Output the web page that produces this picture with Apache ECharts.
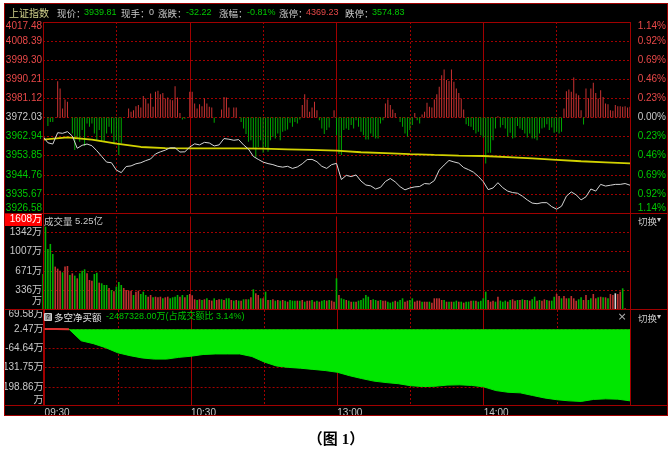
<!DOCTYPE html>
<html><head><meta charset="utf-8">
<script src="https://cdn.jsdelivr.net/npm/echarts@6/dist/echarts.min.js"></script>
<style>
html,body{margin:0;padding:0;background:#fff;}
#wrap{position:relative;width:672px;height:462px;overflow:hidden;}
#bg{position:absolute;left:4px;top:3px;width:664px;height:413px;background:#000;}
#chart{position:absolute;left:0;top:0;width:672px;height:462px;}
</style></head><body>
<div id="wrap"><div id="bg"></div><div id="chart"></div></div>
<script>
// ---------------- data ----------------
const prevClose = 3972.03;   // 昨收
const priceStep = 9.09;      // price grid step
const netBase = 2.47;        // 多空净买额 axis reference tick
const netStep = 67.11;       // 多空净买额 axis step (万)
const volStep = 335.5;       // volume axis step (万)
const volMax = 1608;         // volume axis max (万)

const priceTicks = ['3926.58','3935.67','3944.76','3953.85','3962.94','3972.03','3981.12','3990.21','3999.30','4008.39','4017.48'];
const pctTicks = ['1.14%','0.92%','0.69%','0.46%','0.23%','0.00%','0.23%','0.46%','0.69%','0.92%','1.14%'];
const volTicks = ['万','336万','671万','1007万','1342万','1608万'];
const netTicks = ['万','198.86万','131.75万','-64.64万','2.47万','69.58万'];
const timeTicks = ['09:30','10:30','13:00','14:00'];
const timeTickMinutes = [0, 60, 120, 180];

// index price, one value every 2 minutes (minute 0..240)
const price2 = [
 3963.0,3960.0,3959.4,3964.8,3964.5,3965.3,3963.2,3957.4,3958.8,3959.4,
 3958.6,3956.2,3953.5,3950.8,3950.5,3947.0,3945.8,3948.7,3949.0,3950.0,
 3950.5,3951.5,3952.3,3954.7,3955.7,3956.5,3957.6,3957.6,3955.6,3955.7,
 3958.0,3959.5,3959.0,3960.2,3959.9,3958.5,3959.0,3962.0,3961.7,3961.2,
 3961.5,3959.0,3957.0,3953.5,3952.1,3950.8,3950.1,3949.6,3948.8,3948.4,
 3948.8,3947.8,3948.5,3950.0,3952.0,3952.1,3951.0,3948.8,3947.8,3949.6,
 3950.2,3942.5,3944.5,3943.9,3944.7,3941.8,3939.9,3939.5,3938.0,3938.8,
 3941.6,3943.0,3941.4,3939.1,3937.6,3938.5,3939.0,3939.2,3940.6,3940.4,
 3942.0,3947.0,3949.4,3951.6,3950.9,3950.3,3948.2,3947.2,3946.0,3944.0,
 3941.5,3937.7,3938.5,3941.0,3938.6,3937.0,3936.3,3936.0,3934.6,3932.8,
 3931.3,3931.0,3931.5,3931.5,3929.6,3928.4,3929.8,3934.6,3936.6,3935.2,
 3932.8,3934.3,3938.0,3937.0,3940.2,3939.4,3939.8,3940.2,3940.2,3940.6,
 3939.81];

// yellow line, one value every 10 minutes
const avg10 = [3961.5,3962.6,3961.5,3959.6,3958.0,3957.5,3957.3,3957.3,3957.3,3957.2,
 3956.9,3956.6,3956.3,3955.5,3955.1,3954.6,3954.2,3953.9,3953.7,3953.2,
 3952.6,3951.9,3951.2,3950.7,3950.2];

// red/green strength bars per minute (index points from 昨收 line)
const breadth = [
 0,0,-4.1,-2.1,-2.1,0,17.3,13.8,4.3,8.6,
 7.5,0,-7.6,-15.5,-10.0,-11.6,-6.0,-13.6,-2.9,-4.4,
 -2.9,-7.6,-11.1,-6.0,-11.6,-11.6,-7.6,-4.4,-7.6,-12.7,
 -10.8,-17.9,-12.4,0,0,4.3,2.7,3.5,5.4,5.9,
 4.8,10.2,9.0,6.7,11.4,5.1,12.2,12.7,11.1,11.7,
 9.0,9.5,8.6,8.2,14.9,9.5,2.2,-1.0,-0.6,0,
 12.2,12.2,6.7,4.3,6.3,5.4,9.0,6.7,5.1,4.8,
 -2.5,0,0,3.8,9.8,9.5,4.8,0,4.8,4.8,
 0,-2.1,-5.2,-7.9,-11.6,-10.8,-14.7,-19.0,-14.0,-10.8,
 -16.8,-14.0,-16.3,-10.8,-9.2,-10.0,-7.6,-10.8,-6.8,-6.3,
 -5.7,-2.5,-4.4,-2.1,-2.9,-1.0,5.9,11.1,8.6,2.7,
 4.8,7.5,3.5,-1.3,-5.2,-7.9,-6.0,-4.8,0,3.5,
 -8.4,-17.4,-17.9,-6.0,-5.2,-6.0,-3.6,-5.2,-1.3,-4.4,
 -6.8,-8.4,-10.5,-10.5,-7.6,-9.2,-10.0,-10.0,-2.9,-1.3,
 6.7,8.6,5.9,3.8,2.2,0,-2.1,-4.4,-7.6,-9.2,
 -6.0,-3.6,2.2,-1.3,-2.9,1.4,2.7,7.0,5.1,4.8,
 8.6,11.1,14.6,20.1,22.8,17.8,17.4,22.8,17.0,13.8,
 11.7,9.0,3.8,-3.2,-4.1,-4.4,-6.0,-7.6,-6.8,-8.4,
 -9.5,-21.9,-16.8,-16.8,-10.8,-5.2,0.6,-4.8,-3.6,-5.2,
 -9.2,-7.3,-10.0,-9.5,-4.1,-5.2,-6.0,-7.6,-9.5,-7.6,
 -10.0,-10.0,-10.8,-7.6,-5.2,-4.8,-3.2,-6.0,-4.8,-7.3,
 -6.8,-7.6,-6.8,4.3,12.5,13.3,12.2,19.0,11.4,10.6,
 3.5,-3.3,13.8,9.0,13.8,16.5,11.7,9.0,13.0,9.8,
 6.7,6.3,3.5,3.2,5.9,5.4,5.4,5.1,5.4,4.8,
 5.1];

// volume per minute (万)
const volume = [
 619,1434,1050,1136,963,746,711,677,648,746,
 757,602,631,591,545,631,677,700,631,516,
 505,619,642,470,459,430,430,379,344,321,
 401,482,430,379,344,333,333,258,315,333,
 275,315,258,229,258,218,229,218,229,201,
 218,229,201,218,229,258,229,258,218,258,
 275,252,184,172,184,172,184,201,172,161,
 201,172,184,184,172,201,201,172,161,172,
 161,161,184,184,184,218,356,287,258,201,
 201,315,172,172,184,161,172,161,172,161,
 143,172,161,161,161,161,172,143,161,161,
 172,143,161,143,161,172,161,172,161,143,
 545,258,201,184,172,161,143,143,143,161,
 172,201,258,229,172,184,172,161,172,161,
 161,143,126,143,161,143,172,201,143,161,
 172,201,143,161,161,143,143,143,143,126,
 201,201,201,172,172,143,143,143,143,161,
 143,143,126,143,143,161,161,161,143,161,
 201,315,172,143,161,143,229,161,143,161,
 143,172,184,161,172,172,184,172,172,161,
 184,229,161,172,161,184,172,161,161,229,
 275,241,201,241,201,201,241,201,161,184,
 218,172,258,172,201,275,201,218,229,218,
 218,201,275,258,287,275,315,373,29,0,
 0];
// bar colour per minute: r = up, g = down, w = flat
const volDir = [
 'gggggrrrgr','rgrgrgggrr','rggrgggrgr','gggrrrrgrr','gggrrgrrrg','rrggggrgrg',
 'rrrgrgrgrr','grrgrggrgr','grgrgrgrrg','rgrgrgrgrg','rgggrgrgrr','grgrggrgrr',
 'grggrgrgrg','ggggrggrgr','rgggrgggrr','ggrrrgrrgr','rrrrgrgrgg','rgrggrgrgg',
 'ggrrrgrggg','rgrrgrgrgr','ggrgrrgrgg','rrgrrgrrrg','grrggrrgrg','rgrrwrrgrg',
 'g'].join('');

// 多空净买额 (万), one value every 5 minutes
const net5 = [
 3,3,2.5,-38,-48,-62,-80,-90,-98,-102,
 -102,-96,-92,-86,-84,-84,-84,-93,-112,-126,
 -131,-134,-138,-142,-148,-160,-170,-179,-184,-188,
 -195,-198,-197,-193,-192,-194,-199,-212,-218,-220,
 -229,-238,-244,-248,-250,-243,-241,-242,-248];

// ---------------- chart ----------------
const RED = '#e84848', GREEN = '#00c800', GRAY = '#c8c8c8', LINE = '#a00000';
const LF = "'Liberation Sans','Noto Sans CJK SC',sans-serif";
const CJK = "'Noto Sans CJK SC',sans-serif";
const toU = p => (p - prevClose) / priceStep;
const toNet = v => (v - netBase) / netStep;

const breadthData = breadth.map((b, i) => ({value: [i, b / priceStep], itemStyle: {color: b >= 0 ? '#c83232' : '#00a800'}}));
const volColors = {r: '#c03030', g: '#00b000', w: '#d8d8d8'};
const volData = volume.map((v, i) => ({value: [i, v], itemStyle: {color: volColors[volDir[i]]}}));
const priceData = price2.map((p, i) => [i * 2, toU(p)]);
const avgData = avg10.map((p, i) => [i * 10, toU(p)]);
const netData = net5.map((v, i) => [i * 5, toNet(v)]);
const netPosData = net5.map((v, i) => [i * 5, v >= netBase ? toNet(v) : null]);

const richBase = {
  t: {fontSize: 10, lineHeight: 12, fontFamily: LF},
  s6: {height: 6, lineHeight: 6, fontSize: 1},
  s8: {height: 8, lineHeight: 8, fontSize: 1},
  s9: {height: 9, lineHeight: 9, fontSize: 1},
  s11: {height: 11, lineHeight: 11, fontSize: 1},
  s18: {height: 18, lineHeight: 18, fontSize: 1},
  hi: {fontSize: 10, fontFamily: LF, color: '#ffffff', backgroundColor: '#ff0000', width: 38, height: 13, lineHeight: 13, align: 'right'}
};
const signColor = v => v > 0 ? RED : (v < 0 ? GREEN : GRAY);

function xAxisFor(i) {
  return {
    gridIndex: i, type: 'value', min: 0, max: 240, interval: 60,
    axisLine: {show: false}, axisTick: {show: false},
    splitLine: {show: true, lineStyle: {color: LINE, width: 1, type: 'solid'}},
    minorTick: {show: false, splitNumber: 2},
    minorSplitLine: {show: true, lineStyle: {color: LINE, width: 1, type: [2, 2]}},
    axisLabel: {
      show: i === 2, align: 'left', margin: 2, fontSize: 10, fontFamily: LF, color: GRAY,
      formatter: v => { const k = timeTickMinutes.indexOf(v); return k >= 0 ? timeTicks[k] : ''; }
    }
  };
}
const dashed = {show: true, showMinLine: false, showMaxLine: false, lineStyle: {color: LINE, width: 1, type: [2, 2]}};

const lines = [
  [4, 3.5, 668, 3.5], [4.5, 3, 4.5, 416], [667.5, 3, 667.5, 416], [4, 415.5, 668, 415.5],
  [43, 22.5, 631, 22.5], [43.5, 22, 43.5, 406], [630.5, 22, 630.5, 406],
  [4, 213.5, 668, 213.5], [4, 309.5, 668, 309.5], [4, 405.5, 668, 405.5]
];
const graphics = lines.map(l => ({type: 'line', silent: true, z: 100,
  shape: {x1: l[0], y1: l[1], x2: l[2], y2: l[3]}, style: {stroke: LINE, lineWidth: 1}}));

function txt(x, y, text, fill, font, align) {
  return {type: 'text', x: x, y: y, z: 101, silent: true,
    style: {text: text, fill: fill, font: font, textAlign: align || 'left', align: align || 'left',
            textVerticalAlign: 'middle', verticalAlign: 'middle'}};
}
const fC = "9.5px " + CJK, fN = "9px 'Liberation Sans'";
graphics.push(
  txt(9, 13, '上证指数', '#d2d28c', "10px " + CJK),
  txt(57, 13, '现价：', GRAY, fC), txt(84, 13, '3939.81', GREEN, fN),
  txt(121, 13, '现手：', GRAY, fC), txt(149, 13, '0', GRAY, fN),
  txt(158, 13, '涨跌：', GRAY, fC), txt(186, 13, '-32.22', GREEN, fN),
  txt(219, 13, '涨幅：', GRAY, fC), txt(247, 13, '-0.81%', GREEN, fN),
  txt(279, 13, '涨停：', GRAY, fC), txt(306, 13, '4369.23', RED, fN),
  txt(345, 13, '跌停：', GRAY, fC), txt(372, 13, '3574.83', GREEN, fN),
  txt(44, 221, '成交量', GRAY, fC), txt(75, 221, '5.25亿', GRAY, "9.5px " + LF),
  {type: 'rect', z: 101, silent: true, shape: {x: 44.5, y: 313.5, width: 7, height: 7}, style: {fill: '#9a9a9a', stroke: '#d0d0d0', lineWidth: 1}},
  txt(48, 317.5, '?', '#202020', "bold 7px 'Liberation Sans'", 'center'),
  txt(54, 317, '多空净买额', '#e0e0e0', fC),
  txt(106, 317, '-2487328.00万(占成交额比 3.14%)', GREEN, "9px " + LF),
  txt(622, 317, '×', '#b0b0b0', "11px 'DejaVu Sans'", 'center'),
  txt(638, 221, '切换', GRAY, fC), txt(657, 220, '▾', GRAY, "8px 'DejaVu Sans'"),
  txt(638, 318, '切换', GRAY, fC), txt(657, 317, '▾', GRAY, "8px 'DejaVu Sans'"),
  txt(336, 440, '（图 1）', '#000000', "bold 15px 'Liberation Serif','Noto Sans CJK SC'", 'center')
);

const option = {
  animation: false,
  backgroundColor: 'transparent',
  grid: [
    {left: 43, top: 22, width: 587, height: 191},
    {left: 43, top: 216.5, width: 587, height: 93.5},
    {left: 43, top: 310, width: 587, height: 96}
  ],
  xAxis: [xAxisFor(0), xAxisFor(1), xAxisFor(2)],
  yAxis: [
    {gridIndex: 0, type: 'value', min: -5, max: 5, interval: 1, position: 'left',
     axisLine: {show: false}, axisTick: {show: false},
     splitLine: {show: true, lineStyle: {color: LINE, width: 1, type: [2, 2]}},
     axisLabel: {margin: 1, fontSize: 10, fontFamily: LF, color: v => signColor(v), rich: richBase,
       formatter: v => { const t = priceTicks[Math.round(v) + 5];
         if (v >= 5) return '{s8| }\n{t|' + t + '}';
         if (v <= -5) return '{t|' + t + '}\n{s9| }';
         return '{t|' + t + '}'; }}},
    {gridIndex: 0, type: 'value', min: -5, max: 5, interval: 1, position: 'right',
     axisLine: {show: false}, axisTick: {show: false}, splitLine: {show: false},
     axisLabel: {margin: 36, align: 'right', fontSize: 10, fontFamily: LF, color: v => signColor(v), rich: richBase,
       formatter: v => { const t = pctTicks[Math.round(v) + 5];
         if (v >= 5) return '{s8| }\n{t|' + t + '}';
         if (v <= -5) return '{t|' + t + '}\n{s9| }';
         return '{t|' + t + '}'; }}},
    {gridIndex: 1, type: 'value', min: 0, max: volMax, interval: volStep,
     axisLine: {show: false}, axisTick: {show: false}, splitLine: dashed,
     axisLabel: {margin: 1, fontSize: 10, fontFamily: LF, color: GRAY, rich: richBase,
       formatter: v => { const k = v >= volMax ? 5 : Math.round(v / volStep); const t = volTicks[k];
         if (k === 5) return '{s6| }\n{hi|' + t + '}';
         if (k === 0) return '{t|' + t + '}\n{s18| }';
         return '{t|' + t + '}'; }}},
    {gridIndex: 2, type: 'value', min: -4, max: 1, interval: 1,
     axisLine: {show: false}, axisTick: {show: false}, splitLine: dashed,
     axisLabel: {margin: 1, fontSize: 10, fontFamily: LF, color: GRAY, rich: richBase,
       formatter: v => { const t = netTicks[Math.round(v) + 4];
         if (v >= 1) return '{s8| }\n{t|' + t + '}';
         if (v <= -4) return '{t|' + t + '}\n{s11| }';
         return '{t|' + t + '}'; }}}
  ],
  series: [
    {type: 'bar', xAxisIndex: 0, yAxisIndex: 0, barWidth: 1, data: breadthData, z: 2},
    {type: 'line', xAxisIndex: 0, yAxisIndex: 0, data: priceData, showSymbol: false, z: 4,
     lineStyle: {color: '#d4d4d4', width: 1}},
    {type: 'line', xAxisIndex: 0, yAxisIndex: 0, data: avgData, showSymbol: false, z: 3,
     lineStyle: {color: '#d2d200', width: 1.8}},
    {type: 'bar', xAxisIndex: 1, yAxisIndex: 2, barWidth: 1.6, data: volData},
    {type: 'line', xAxisIndex: 2, yAxisIndex: 3, data: netData, showSymbol: false,
     itemStyle: {color: '#00e600'}, lineStyle: {width: 1, color: '#00e600'},
     areaStyle: {opacity: 1, color: '#00e600'}},
    {type: 'line', xAxisIndex: 2, yAxisIndex: 3, data: netPosData, showSymbol: false, connectNulls: false,
     itemStyle: {color: '#e03030'}, lineStyle: {width: 2, color: '#e03030'}}
  ],
  graphic: graphics
};
const chart = echarts.init(document.getElementById('chart'));
chart.setOption(option);
</script>
</body></html>
